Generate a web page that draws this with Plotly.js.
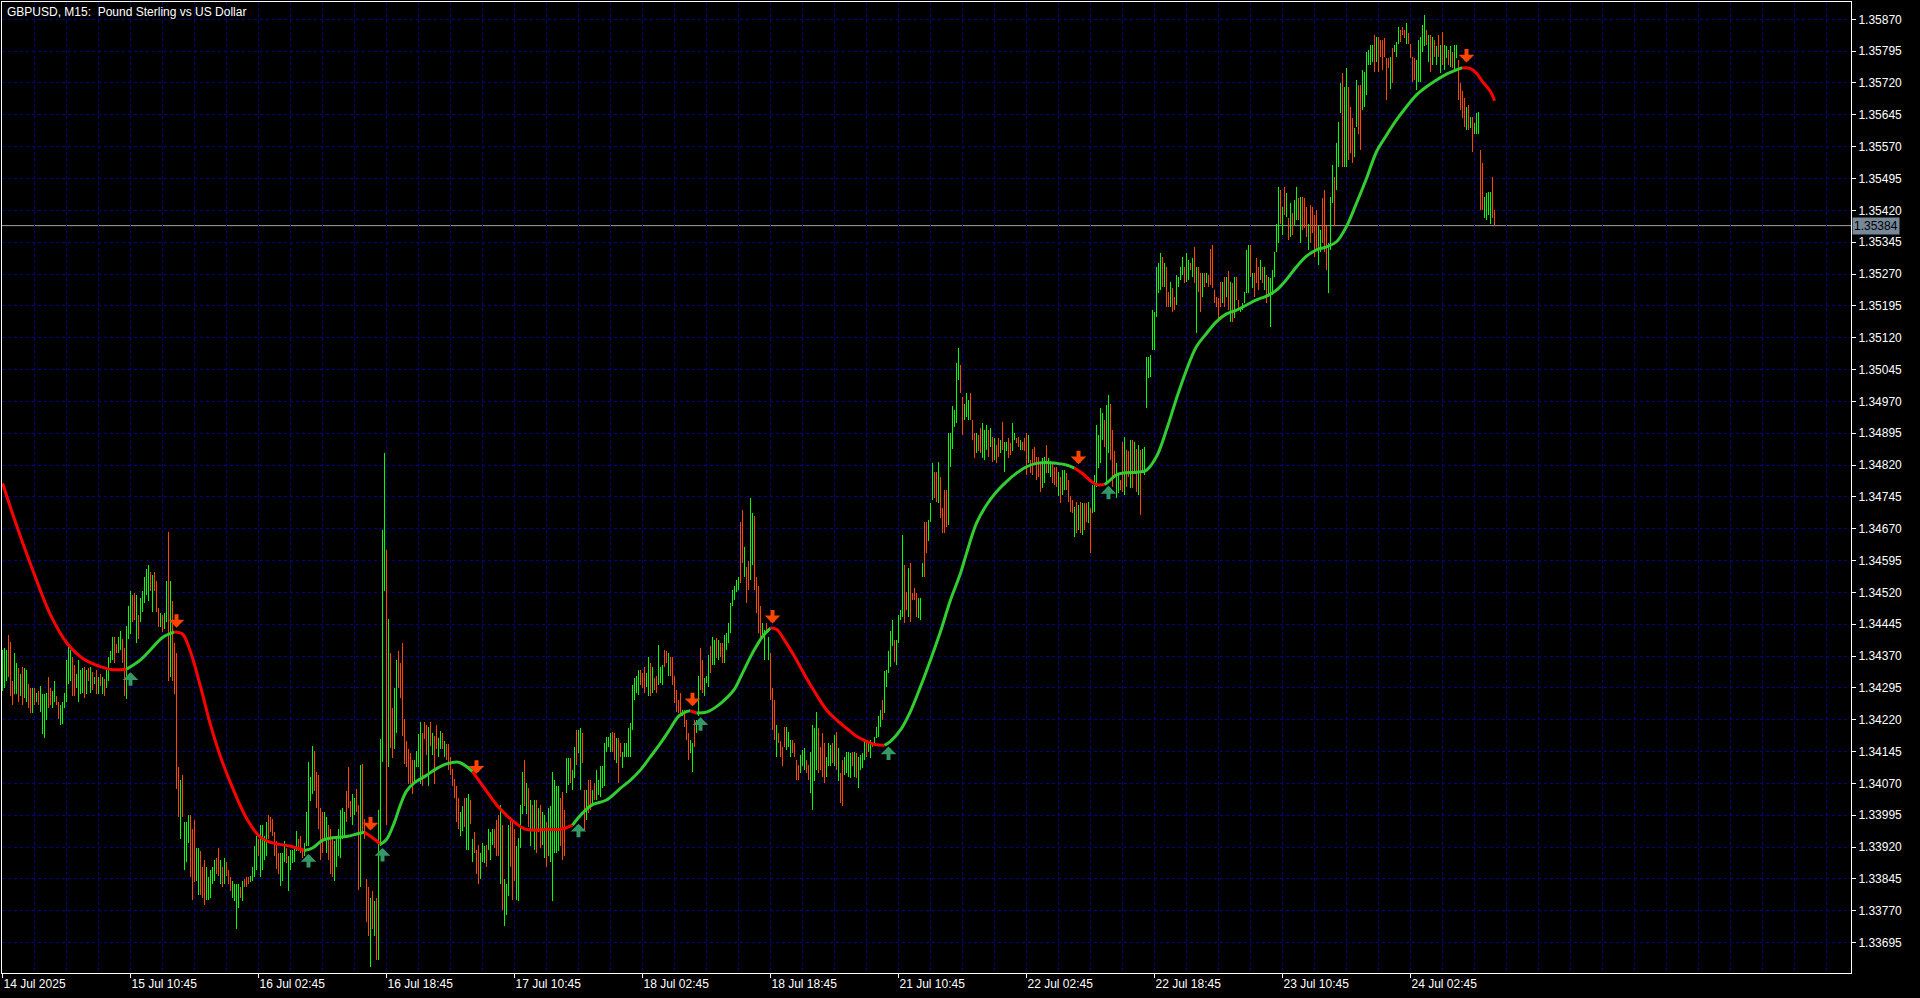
<!DOCTYPE html>
<html>
<head>
<meta charset="utf-8">
<script src="https://cdn.plot.ly/plotly-3.0.1.min.js"></script>
<style>
  html, body { margin: 0; padding: 0; background: #000; }
  #chart { width: 1920px; height: 998px; }
  /* price bars are drawn as hard 1px strokes */
  .scatterlayer .trace:nth-child(-n+2) path.js-line { shape-rendering: crispEdges; }
</style>
</head>
<body>
<div id="chart"></div>
<script>
// GBPUSD M15 bars. Prices are stored in points (0.00001) above BASE.
const BASE = 1.33;
const POINT = 0.00001;

const barHigh = [
1385,1389,1385,1420,1404,1312,1377,1353,1341,1328,
1345,1341,1337,1304,1296,1296,1296,1284,1288,1300,
1280,1280,1284,1320,1296,1288,1312,1276,1263,1255,
1263,1284,1361,1398,1385,1369,1349,1328,1361,1337,
1341,1345,1337,1341,1345,1333,1320,1337,1320,1328,
1320,1316,1337,1369,1381,1416,1416,1398,1416,1430,
1410,1389,1442,1487,1523,1515,1519,1515,1467,1507,
1523,1556,1576,1584,1568,1560,1568,1548,1483,1471,
1467,1471,1548,1663,1548,1499,1402,1377,1109,1077,
1089,979,979,995,995,963,983,918,918,910,
873,890,873,849,865,873,890,894,918,890,
873,894,886,865,849,841,833,833,833,825,
841,845,849,849,853,873,922,946,938,971,
971,946,979,995,991,987,955,934,906,906,
906,934,918,898,914,914,918,959,938,946,
918,930,1003,1121,1085,1158,1146,1097,1089,1012,
1003,1003,991,971,963,938,934,946,963,1007,
1012,1003,1052,1109,1028,1044,1036,1056,1020,1113,
1117,987,845,825,800,816,792,800,1007,
1174,1666,1849,1621,1458,1377,1247,1296,1361,
1381,1353,1402,1223,1170,1150,1142,1125,1125,
1146,1186,1215,1190,1215,1207,1203,1215,1190,
1182,1207,1178,1194,1190,
1170,1162,1162,1133,1105,1081,1064,1036,1003,1016,1036,1036,1044,1032,938,955,914,926,906,930,922,926,
963,955,963,963,983,995,1020,971,845,833,971,991,979,963,922,942,1020,1097,1125,1072,
1060,1032,1020,1032,1032,1012,1020,1003,995,979,1012,1016,1097,1077,
1063,1063,1035,1051,1008,
1129,1129,1129,1102,1157,1196,1196,1200,1188,1055,
1055,1078,1078,1055,1071,1102,1078,1110,1110,1165,
1180,1180,1188,1192,1188,1176,1176,1165,1145,1165,
1165,1200,1212,1302,1318,1322,1338,1338,1330,1345,
1330,1369,1353,1345,1318,1322,1396,1345,1349,1385,
1381,1377,1369,1369,1322,1290,1267,1283,1243,1243,
1220,1188,1173,1165,1220,1220,1322,1389,1361,1318,
1322,1373,1393,1416,1408,1412,1408,1400,1400,1420,
1424,1447,1495,1526,1534,1549,1557,1687,1714,1628,
1581,1593,1742,1706,1699,1557,1534,1487,1447,1432,
1447,1416,1377,1294,1267,1208,1188,1169,1157,1204,
1204,1192,1173,1173,1165,1126,1114,1137,1149,1153,
1126,1114,1145,1208,1200,1239,1200,1157,1188,1165,
1133,1165,1161,1165,1184,1192,1153,1094,1126,1133,
1145,1145,1141,1145,1145,1141,1133,1137,1141,1169,
1169,1165,1173,1165,1180,1204,1228,1243,1267,1334,
1338,1381,1428,1455,1408,1408,1467,1479,1655,1585,
1522,1577,1589,1518,1530,1518,
1506,1506,1589,1687,1687,1691,1730,1824,1804,1804,
1828,1793,1718,1761,1761,1895,1895,1958,1950,2060,
2095,2056,1981,1965,1989,1973,1989,1926,1895,1895,
1891,1907,1918,1903,1914,1903,1907,1887,1883,1867,
1883,1879,1922,1875,1875,1883,1871,1918,1895,1883,
1887,1879,1875,1883,1895,1891,1832,1859,1863,1840,
1840,1828,1836,1840,1867,1836,1828,1828,1816,1816,
1804,1793,1808,1808,1801,1785,1746,1738,1722,1734,
1726,1734,1730,1730,1730,1734,1718,1773,1797,1914,
1891,1954,1942,1926,1962,1985,1965,1903,1852,1824,
1797,1785,1875,1887,1856,1852,1879,1879,1875,1859,
1867,1856,1859,1863,
2075,2075,2079,2185,2181,2287,2295,2319,2311,2295,
2287,2228,2252,2236,2217,2268,2264,2287,2311,2287,
2319,2303,2295,2307,2334,2287,2287,2272,2272,2272,
2272,2268,2330,2338,2232,2217,2213,2252,2252,2264,
2264,2276,2252,2248,2264,2264,2209,2193,2201,2228,
2327,2338,2338,2272,2272,2307,2287,2303,2287,2287,
2268,2264,2260,2279,2323,2389,2476,2468,2429,2476,
2460,2401,2437,2413,2444,2476,2448,2452,2452,2448,
2429,2389,2433,2429,2409,2421,2382,2374,2448,2468,
2382,2342,2452,2527,2499,2578,2629,2719,2743,2711,
2755,2711,2664,2637,2613,2727,2715,2715,2751,2747,
2794,2798,2809,2809,2833,2829,2829,2821,2821,2825,
2778,2778,2782,2802,2809,2817,2853,2845,2853,2845,
2861,2837,2813,2782,2778,2774,2821,2829,2857,2880,
2845,2833,2833,2829,2821,2806,2833,2809,2841,2809,
2806,2798,2806,2794,2809,2809,2774,2719,2700,2684,
2664,2668,2641,2641,2625,2649,2652,2562,2531,2452,
2460,2464,2464,2499,2421
];

const barLow = [
1288,1296,1312,1320,1276,1255,1280,1280,1263,1276,
1255,1272,1263,1247,1235,1235,1255,1263,1255,1239,
1186,1178,1219,1247,1255,1247,1263,1255,1223,1207,
1211,1247,1263,1304,1312,1276,1276,1296,1263,1280,
1284,1272,1280,1312,1284,1290,1304,1280,1280,1300,
1280,1276,1296,1312,1353,1361,1353,1377,1377,1385,
1353,1276,1268,1410,1422,1450,1454,1402,1410,1450,
1475,1495,1515,1499,1523,1475,1523,1475,1438,1438,
1426,1434,1450,1312,1320,1312,1280,1056,991,938,
991,865,886,930,849,796,837,841,808,808,
800,784,796,796,800,833,841,857,853,833,
825,833,853,833,816,800,792,727,776,800,
792,825,825,833,837,841,849,865,898,849,
865,890,898,938,955,946,898,869,857,829,
841,886,882,816,865,882,886,910,910,906,
894,900,922,922,1028,1044,1052,1012,963,890,
906,934,906,890,857,849,841,873,898,894,
938,942,979,1012,991,971,995,1003,820,825,
955,938,743,711,638,727,711,654,654,
922,1121,1523,971,1109,1154,1129,1150,1190,
1296,1272,1182,1117,1109,1068,1068,1044,1068,
1109,1109,1068,1064,1174,1137,1064,1158,1137,
1068,1150,1133,1150,1150,
1133,1125,1101,1089,1064,1036,979,963,946,959,967,914,914,975,886,906,857,833,845,886,882,873,
914,890,926,918,898,898,833,772,735,760,804,873,796,841,796,792,918,999,1016,999,
967,922,963,914,906,955,918,926,894,873,898,886,792,906,
906,910,922,890,900,
1047,1067,1071,1055,1082,1114,1141,1055,1118,961,
984,1000,1008,1016,1031,1031,1043,1039,1059,1063,
1145,1157,1145,1145,1126,1118,1071,1133,1106,1133,
1133,1133,1133,1196,1267,1283,1279,1302,1294,1283,
1298,1275,1275,1283,1290,1283,1302,1306,1302,1345,
1353,1322,1322,1302,1259,1239,1235,1235,1228,1204,
1173,1126,1141,1098,1157,1188,1228,1290,1283,1275,
1306,1298,1330,1349,1349,1365,1361,1369,1353,1353,
1385,1400,1424,1487,1502,1522,1526,1542,1589,1557,
1495,1526,1549,1585,1526,1471,1424,1408,1416,1361,
1424,1361,1267,1196,1173,1133,1165,1133,1110,1157,
1149,1157,1133,1141,1133,1078,1078,1094,1110,1102,
1094,1078,1047,1008,1075,1102,1094,1102,1086,1071,
1086,1110,1110,1118,1110,1102,1075,1023,1016,1090,
1094,1086,1082,1110,1086,1082,1059,1102,1106,1126,
1133,1145,1129,1157,1165,1176,1180,1204,1220,1235,
1298,1330,1345,1393,1357,1349,1400,1455,1463,1447,
1479,1463,1451,1502,1502,1463,
1459,1455,1557,1557,1612,1640,1687,1738,1742,1734,
1730,1695,1659,1659,1675,1679,1816,1859,1910,1918,
2020,1989,1891,1926,1934,1926,1926,1879,1836,1848,
1852,1848,1836,1832,1856,1840,1863,1828,1832,1824,
1840,1848,1856,1804,1852,1836,1844,1852,1879,1871,
1863,1856,1856,1852,1797,1824,1801,1797,1820,1785,
1793,1757,1765,1777,1801,1801,1793,1777,1773,1769,
1746,1730,1750,1761,1761,1734,1710,1706,1651,1659,
1667,1659,1655,1667,1687,1683,1612,1706,1710,1769,
1812,1824,1879,1863,1777,1848,1832,1769,1793,1742,
1754,1761,1757,1750,1769,1793,1765,1765,1804,1757,
1750,1702,1804,1797,
1954,2024,2028,2091,2091,2169,2225,2232,2240,2240,
2193,2193,2193,2181,2185,2197,2240,2256,2268,2248,
2252,2256,2279,2264,2248,2130,2228,2181,2217,2240,
2248,2240,2244,2236,2201,2193,2166,2193,2201,2193,
2217,2185,2158,2158,2166,2209,2185,2181,2185,2201,
2225,2225,2264,2236,2217,2248,2232,2256,2248,2232,
2201,2217,2146,2221,2264,2323,2342,2389,2362,2409,
2405,2350,2358,2362,2382,2397,2397,2342,2374,2378,
2358,2327,2342,2366,2311,2327,2291,2323,2342,2323,
2279,2225,2327,2437,2382,2468,2523,2649,2523,2523,
2523,2539,2554,2531,2546,2617,2601,2562,2656,2664,
2692,2762,2762,2770,2747,2770,2747,2782,2751,2782,
2680,2755,2707,2719,2794,2782,2813,2817,2833,2825,
2813,2813,2778,2723,2727,2704,2723,2723,2794,2806,
2809,2770,2747,2762,2782,2762,2782,2743,2762,2751,
2778,2762,2758,2755,2747,2778,2680,2656,2637,2617,
2609,2609,2613,2558,2601,2601,2601,2421,2421,2401,
2397,2409,2389,2401,2382
];

// 1 = bar closed up, 0 = bar closed down
const barUp = [
1,1,1,0,0,0,1,1,0,1, 0,1,1,0,0,1,0,1,0,1, 1,1,1,0,0,1,1,0,0,1, 1,1,1,1,1,0,0,1,1,1,
1,0,1,0,1,0,1,0,1,0, 1,0,1,1,1,1,0,0,1,1, 0,0,1,1,1,0,0,1,0,1, 1,1,1,1,0,1,0,0,0,1,
0,1,1,0,1,0,0,0,0,1, 0,1,1,1,0,0,0,1,1,0, 0,0,1,1,1,1,1,0,0,1, 0,1,0,0,0,1,1,1,1,0,
1,0,0,0,1,1,1,1,0,1, 1,1,1,0,0,0,0,0,0,1, 1,1,0,1,1,1,1,1,0,0, 0,1,1,1,1,1,0,0,0,0,
0,1,1,0,0,0,1,1,1,1, 1,1,0,0,0,1,1,0,0,1, 0,0,0,0,1,0,1,0,1,
1,1,1,0,1,0,0,1,1,
0,0,0,0,0,0,0,0,1,
1,1,1,0,0,0,1,0,1,
0,0,1,1,0,
1,0,0,0,0,0,0,0,1,1,0,1,1,0,1,0,0,0,1,1,1,0,
1,1,1,0,0,0,1,0,1,1,1,0,0,0,1,1,1,1,0,1,
0,1,0,1,0,1,0,1,1,0,1,1,1,1,
1,1,0,0,0,
1,1,0,1,1,0,1,1,0,0, 1,0,0,1,0,1,1,1,1,1, 1,1,1,0,0,1,0,0,1,1, 1,1,1,1,1,1,1,0,0,0,
1,1,0,1,0,0,1,1,1,0, 0,1,0,0,0,0,0,0,1,0, 0,0,1,1,0,1,1,0,0,1, 1,1,0,1,1,0,1,0,0,1,
1,1,1,1,1,1,1,0,0,1, 0,0,1,1,0,0,0,0,1,1, 0,1,0,0,0,1,0,0,0,0, 1,1,1,0,0,0,0,1,1,1,
0,0,1,1,1,1,0,0,0,0, 1,1,1,0,1,0,1,0,0,1, 1,1,1,0,1,0,1,1,1,1, 0,1,1,0,1,1,1,1,0,1,
1,1,1,1,0,1,1,1,1,0, 0,1,0,0,0,0,
1,1,1,0,0,1,1,1,0,0, 1,0,0,0,0,1,1,1,1,1, 1,0,0,1,1,1,0,0,0,1, 0,0,1,1,1,0,1,0,1,0,
0,1,0,1,1,0,0,1,1,0, 0,1,0,0,0,1,0,0,0,0, 0,0,1,1,0,1,1,0,0,0, 1,0,1,1,0,0,0,0,1,0,
1,0,1,0,0,1,0,1,1,1, 1,1,1,0,1,1,0,0,0,1, 1,0,0,1,0,0,1,0,1,0, 1,0,1,1,
1,1,1,1,1,1,1,1,0,1, 0,0,1,0,0,1,1,1,1,0, 1,1,0,1,0,1,0,0,1,0, 1,0,0,0,0,0,0,0,1,0,
1,0,1,0,1,0,0,1,1,1, 1,1,0,1,0,0,0,1,0,1, 0,1,1,1,1,1,1,0,1,0, 1,0,1,0,1,1,0,1,0,0,
0,1,0,0,0,0,1,1,0,0, 0,1,1,1,0,1,1,1,0,1, 1,0,0,0,1,1,0,0,1,1, 1,1,1,1,0,1,0,0,0,0,
0,0,1,0,1,1,1,0,0,0, 1,0,0,0,0,1,1,1,1,1, 0,1,0,1,0,1,0,1,0,1, 1,0,1,0,1,1,0,0,0,0,
1,0,1,0,1,1,1,0,0,1, 1,1,1,0,0
];

// Time axis labels (every 64 bars)
const labelBars = [0, 64, 128, 192, 256, 320, 384, 448, 512, 576, 640, 704];
const labelText = ["14 Jul 2025", "15 Jul 10:45", "16 Jul 02:45", "16 Jul 18:45", "17 Jul 10:45",
  "18 Jul 02:45", "18 Jul 18:45", "21 Jul 10:45", "22 Jul 02:45", "22 Jul 18:45",
  "23 Jul 10:45", "24 Jul 02:45"];

// Smoothed trend line, sampled at these bars (points above BASE)
const maBar = [0,7,15,24,32,40,49,55,62,69,74,80,86,90,94,99,104,109,115,122,
129,135,144,151,155,160,165,172,178,181,185,189,192,196,199,202,206,212,217,222,
228,232,235,237,242,247,252,257,261,266,272,279,285,290,295,302,309,314,319,324,
329,334,338,342,344,347,352,357,362,366,370,375,380,384,387,392,397,402,407,412,
417,422,427,432,437,441,444,449,454,459,464,469,474,479,482,487,492,497,502,507,
512,517,522,527,532,536,540,544,547,551,553,557,562,567,572,577,582,587,592,597,
602,607,612,617,622,627,632,637,642,647,652,657,662,667,672,677,682,687,692,697,
702,707,712,717,722,727,730,734,737,740,744,746];
const maVal = [1777,1678,1574,1467,1402,1365,1345,1338,1339,1361,1385,1414,1427,1422,1380,1298,1208,1133,1060,988,
943,930,922,912,918,936,942,945,952,955,942,927,938,979,1020,1052,1072,1089,1105,1116,
1120,1110,1098,1085,1052,1020,995,975,963,960,962,962,972,1000,1020,1031,1059,1078,1102,1133,
1165,1200,1228,1239,1241,1236,1238,1251,1271,1292,1330,1377,1416,1436,1433,1400,1361,1318,1279,1243,
1220,1200,1181,1169,1161,1160,1169,1196,1240,1298,1361,1428,1502,1565,1612,1683,1726,1757,1781,1801,
1816,1824,1826,1824,1820,1813,1800,1783,1774,1774,1781,1797,1802,1803,1808,1840,1903,1977,2044,2099,
2130,2158,2176,2185,2197,2209,2218,2232,2257,2287,2312,2327,2334,2346,2382,2437,2495,2558,2597,2633,
2664,2692,2711,2727,2741,2751,2756,2754,2743,2723,2700,2678];

// Bars where the trend line changes colour (1 = turns up, 0 = turns down)
const turnBar = [62, 86, 151, 181, 189, 235, 285, 344, 347, 384, 441, 536, 551, 730];
const turnUp  = [1, 0, 1, 0, 1, 0, 1, 0, 1, 0, 1, 0, 1, 0];

// Signal arrows: bar, price at the arrow tip (points above BASE), direction
const arrowBar = [64, 87, 153, 184, 190, 237, 288, 345, 349, 385, 443, 538, 553, 732];
const arrowTip = [1332, 1437, 904, 959, 918, 1093, 975, 1252, 1226, 1447, 1157, 1822, 1771, 2768];
const arrowUp  = [1, 0, 1, 0, 1, 0, 1, 0, 1, 0, 1, 0, 1, 0];

const bidPrice = 1.35384;
const chartTitle = "GBPUSD, M15: \u00a0Pound Sterling vs US Dollar";

// ---------------------------------------------------------------------------
const toPrice = v => +(BASE + v * POINT).toFixed(5);

const FONT = "Liberation Sans, Arial, sans-serif";
const GRID = "#00008C";
const UP_BAR = "#00FF00", DOWN_BAR = "#FF4500";
const UP_LINE = "#32CD32", DOWN_LINE = "#FF0000";

// High-low bars, one path per direction
const upX = [], upY = [], dnX = [], dnY = [];
const nBars = Math.min(barHigh.length, barLow.length, barUp.length);
for (let i = 0; i < nBars; i++) {
  const hi = toPrice(barHigh[i]), lo = toPrice(barLow[i]);
  if (barUp[i]) { upX.push(i, i, null); upY.push(lo, hi, null); }
  else { dnX.push(i, i, null); dnY.push(lo, hi, null); }
}

const traces = [
  { type: "scatter", mode: "lines", x: upX, y: upY, line: { color: UP_BAR, width: 1 }, hoverinfo: "skip" },
  { type: "scatter", mode: "lines", x: dnX, y: dnY, line: { color: DOWN_BAR, width: 1 }, hoverinfo: "skip" }
];

// Trend line split into coloured runs between turning bars
const bounds = [maBar[0], ...turnBar, maBar[maBar.length - 1]];
for (let k = 0; k + 1 < bounds.length; k++) {
  const a = bounds[k], b = bounds[k + 1];
  const xs = [], ys = [];
  maBar.forEach((bar, j) => { if (bar >= a && bar <= b) { xs.push(bar); ys.push(toPrice(maVal[j])); } });
  const rising = k === 0 ? false : !!turnUp[k - 1];
  traces.push({
    type: "scatter", mode: "lines", x: xs, y: ys,
    line: { color: rising ? UP_LINE : DOWN_LINE, width: 3, shape: "spline", smoothing: 1 },
    hoverinfo: "skip"
  });
}

// Signal arrows
const annotations = arrowBar.map((bar, j) => ({
  x: bar, y: toPrice(arrowTip[j]), xref: "x", yref: "y",
  text: "", showarrow: true, ax: 0, ay: arrowUp[j] ? 15 : -15,
  arrowhead: 1, arrowsize: 0.65, arrowwidth: 4, standoff: 0, startstandoff: 0,
  arrowcolor: arrowUp[j] ? "#339966" : "#FF4500"
}));

// Bid price tag on the price scale
annotations.push({
  x: 1, xref: "paper", xanchor: "left", xshift: 1,
  y: bidPrice, yref: "y", yanchor: "middle",
  text: bidPrice.toFixed(5), showarrow: false,
  bgcolor: "#778899", borderpad: 1,
  font: { family: FONT, size: 12, color: "#000000" }
});

const layout = {
  width: 1920, height: 998,
  paper_bgcolor: "#000000", plot_bgcolor: "#000000",
  margin: { l: 2, r: 69, t: 2, b: 25 },
  showlegend: false,
  hovermode: false,
  title: {
    text: chartTitle, xref: "container", yref: "container",
    x: 7 / 1920, xanchor: "left", y: 0.9925, yanchor: "top",
    pad: { t: 0, b: 0, l: 0, r: 0 },
    font: { family: FONT, size: 12, color: "#FFFFFF" }
  },
  xaxis: {
    range: [-0.25, 924.25],
    tickmode: "array", tickvals: labelBars, ticktext: labelText,
    ticklabelposition: "outside right",
    ticks: "outside", ticklen: 4, tickwidth: 1, tickcolor: "#FFFFFF",
    tickfont: { family: FONT, size: 12, color: "#FFFFFF" },
    showline: true, mirror: true, linecolor: "#FFFFFF", linewidth: 1,
    showgrid: true, gridcolor: GRID, griddash: "3px,3px", gridwidth: 1,
    minor: { tickmode: "linear", tick0: 0, dtick: 16, showgrid: true, gridcolor: GRID, griddash: "3px,3px", gridwidth: 1, ticks: "" },
    zeroline: false, fixedrange: true
  },
  yaxis: {
    side: "right",
    range: [1.336235, 1.3591075],
    tickmode: "linear", tick0: 1.33695, dtick: 0.00075, tickformat: ".5f",
    ticks: "outside", ticklen: 4, tickwidth: 1, tickcolor: "#FFFFFF",
    tickfont: { family: FONT, size: 12, color: "#FFFFFF" },
    showline: true, mirror: true, linecolor: "#FFFFFF", linewidth: 1,
    showgrid: true, gridcolor: GRID, griddash: "3px,3px", gridwidth: 1,
    zeroline: false, fixedrange: true
  },
  shapes: [{
    type: "line", xref: "paper", x0: 0, x1: 1, yref: "y", y0: bidPrice, y1: bidPrice,
    line: { color: "#A0A0A0", width: 1 }, layer: "below"
  }],
  annotations: annotations
};

Plotly.newPlot("chart", traces, layout, { staticPlot: true, displayModeBar: false });
</script>
</body>
</html>
